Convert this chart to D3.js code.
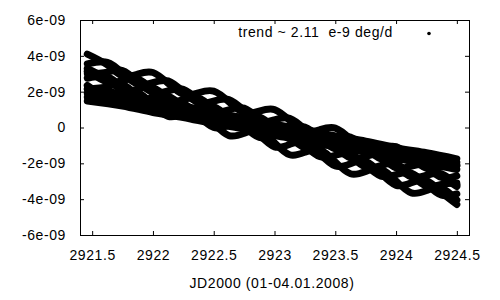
<!DOCTYPE html>
<html>
<head>
<meta charset="utf-8">
<script src="https://cdn.jsdelivr.net/npm/d3@7"></script>
<style>
  html, body { margin: 0; padding: 0; background: #fff; }
  svg { display: block; }
  text { font-family: 'Liberation Sans', Arial, sans-serif; }
</style>
</head>
<body>
<svg id="chart" width="500" height="300"></svg>
<script>
// values are in units of 1e-9 deg
const UNIT = 1e-9;

const waveTimes = [2921.46, 2921.625, 2921.75, 2921.875, 2922, 2922.125, 2922.25, 2922.375,
  2922.5, 2922.625, 2922.75, 2922.875, 2923, 2923.125, 2923.25, 2923.375, 2923.5,
  2923.625, 2923.75, 2923.875, 2924, 2924.125, 2924.25, 2924.375, 2924.5];

const wave1 = [4.10, 3.49, 2.88, 2.98, 3.07, 2.46, 1.85, 1.94, 2.03, 1.43, 0.82, 0.91, 1.00,
  0.39, -0.22, -0.12, -0.03, -0.64, -1.25, -1.16, -1.07, -1.67, -2.28, -2.19, -2.10];
const wave2 = [3.55, 3.64, 3.03, 2.42, 2.51, 2.60, 1.99, 1.38, 1.47, 1.56, 0.95, 0.34, 0.43,
  0.51, -0.10, -0.71, -0.62, -0.53, -1.14, -1.75, -1.66, -1.57, -2.18, -2.79, -2.70];
const wave3 = [3.00, 3.09, 3.18, 2.56, 1.95, 2.04, 2.13, 1.51, 0.90, 0.99, 1.08, 0.46, -0.15,
  -0.06, 0.02, -0.59, -1.20, -1.11, -1.03, -1.64, -2.25, -2.16, -2.08, -2.69, -3.30];
const wave4 = [3.15, 2.54, 2.62, 2.71, 2.09, 1.48, 1.56, 1.65, 1.03, 0.42, 0.50, 0.59, -0.03,
  -0.64, -0.55, -0.47, -1.08, -1.70, -1.61, -1.53, -2.14, -2.76, -2.67, -2.59, -3.20];
const wave5 = [3.30, 2.68, 2.07, 2.15, 2.23, 1.62, 1.00, 1.08, 1.17, 0.55, -0.07, 0.02, 0.10,
  -0.52, -1.13, -1.05, -0.97, -1.58, -2.20, -2.12, -2.03, -2.65, -3.27, -3.18, -3.10];
const wave6 = [2.75, 2.83, 2.21, 1.59, 1.68, 1.76, 1.14, 0.52, 0.60, 0.68, 0.06, -0.56, -0.48,
  -0.39, -1.01, -1.63, -1.55, -1.47, -2.09, -2.71, -2.63, -2.54, -3.16, -3.78, -3.70];
const wave7 = [2.15, 2.28, 2.41, 1.74, 1.08, 1.21, 1.34, 0.67, 0.00, 0.13, 0.26, -0.41, -1.08,
  -0.94, -0.81, -1.48, -2.15, -2.02, -1.89, -2.56, -3.23, -3.09, -2.96, -3.63, -4.30];
const wave8 = [2.35, 1.68, 1.82, 1.95, 1.28, 0.62, 0.75, 0.88, 0.22, -0.45, -0.32, -0.18, -0.85,
  -1.52, -1.38, -1.25, -1.92, -2.58, -2.45, -2.32, -2.98, -3.65, -3.52, -3.38, -4.05];

const driftTimes = [2921.46, 2921.75, 2922, 2922.25, 2922.5, 2922.75, 2923, 2923.25, 2923.5,
  2923.75, 2924, 2924.25, 2924.5];

const drift1 = [2.15, 1.86, 1.48, 1.20, 0.83, 0.55, 0.18, -0.11, -0.47, -0.76, -1.12, -1.41, -1.75];
const drift2 = [1.92, 1.56, 1.28, 0.92, 0.64, 0.28, -0.01, -0.37, -0.65, -1.01, -1.29, -1.65, -1.95];
const drift3 = [1.70, 1.40, 1.04, 0.76, 0.40, 0.12, -0.25, -0.53, -0.89, -1.17, -1.53, -1.81, -2.15];
const drift4 = [1.48, 1.20, 0.84, 0.56, 0.20, -0.08, -0.45, -0.73, -1.09, -1.37, -1.73, -2.01, -2.35];

const xTicks = [2921.5, 2922, 2922.5, 2923, 2923.5, 2924, 2924.5];
const xTickLabels = ['2921.5', '2922', '2922.5', '2923', '2923.5', '2924', '2924.5'];
const yTicks = [-6, -4, -2, 0, 2, 4, 6];
const yTickLabels = ['-6e-09', '-4e-09', '-2e-09', '0', '2e-09', '4e-09', '6e-09'];

const xLabel = 'JD2000 (01-04.01.2008)';
const keyLabel = 'trend ~ 2.11  e-9 deg/d';

const margin = { left: 80, right: 31, top: 20, bottom: 65 };
const width = 500 - margin.left - margin.right;
const height = 300 - margin.top - margin.bottom;

const svg = d3.select('#chart');
const g = svg.append('g')
  .attr('transform', 'translate(' + margin.left + ',' + margin.top + ')');

const x = d3.scaleLinear().domain([2921.4, 2924.6]).range([0, width]);
const y = d3.scaleLinear().domain([-6 * UNIT, 6 * UNIT]).range([height, 0]);

const toPoints = (times, vals) => times.map((t, i) => [t, vals[i] * UNIT]);

const series = [
  toPoints(driftTimes, drift1),
  toPoints(driftTimes, drift2),
  toPoints(driftTimes, drift3),
  toPoints(driftTimes, drift4),
  toPoints(waveTimes, wave1),
  toPoints(waveTimes, wave2),
  toPoints(waveTimes, wave3),
  toPoints(waveTimes, wave4),
  toPoints(waveTimes, wave5),
  toPoints(waveTimes, wave6),
  toPoints(waveTimes, wave7),
  toPoints(waveTimes, wave8)
];

const line = d3.line()
  .x((d) => x(d[0]))
  .y((d) => y(d[1]))
  .curve(d3.curveNatural);

g.append('g')
  .attr('class', 'curves')
  .selectAll('path')
  .data(series)
  .enter()
  .append('path')
  .attr('d', line)
  .attr('fill', 'none')
  .attr('stroke', '#000')
  .attr('stroke-width', 7)
  .attr('stroke-linecap', 'round')
  .attr('stroke-linejoin', 'round');

// axes, ticks inward + mirrored like gnuplot
const styleAxis = (sel) => {
  sel.select('.domain').remove();
  sel.attr('font-size', 14)
    .attr('font-family', "'Liberation Sans', Arial, sans-serif")
    .style('letter-spacing', '0.6px');
  sel.selectAll('line').attr('stroke', '#000');
};

g.append('g')
  .attr('transform', 'translate(0,' + height + ')')
  .call(d3.axisBottom(x).tickValues(xTicks).tickSize(-4).tickPadding(15)
    .tickFormat((d, i) => xTickLabels[i]))
  .call(styleAxis);

g.append('g')
  .call(d3.axisTop(x).tickValues(xTicks).tickSize(-4).tickFormat(''))
  .call(styleAxis);

g.append('g')
  .call(d3.axisLeft(y).tickValues(yTicks.map((v) => v * UNIT)).tickSize(-4).tickPadding(14)
    .tickFormat((d, i) => yTickLabels[i]))
  .call(styleAxis);

g.append('g')
  .attr('transform', 'translate(' + width + ',0)')
  .call(d3.axisRight(y).tickValues(yTicks.map((v) => v * UNIT)).tickSize(-4).tickFormat(''))
  .call(styleAxis);

g.append('rect')
  .attr('x', 0.5)
  .attr('y', 0.5)
  .attr('width', width)
  .attr('height', height)
  .attr('fill', 'none')
  .attr('stroke', '#000')
  .attr('stroke-width', 1);

// x label
svg.append('text')
  .attr('x', 272)
  .attr('y', 288)
  .attr('text-anchor', 'middle')
  .attr('font-size', 14)
  .style('letter-spacing', '0.6px')
  .text(xLabel);

// key
svg.append('text')
  .attr('x', 393)
  .attr('y', 37)
  .attr('text-anchor', 'end')
  .attr('font-size', 14)
  .style('letter-spacing', '0.6px')
  .style('white-space', 'pre')
  .text(keyLabel);

svg.append('circle')
  .attr('cx', 429)
  .attr('cy', 33.5)
  .attr('r', 1.8)
  .attr('fill', '#000');
</script>
</body>
</html>
